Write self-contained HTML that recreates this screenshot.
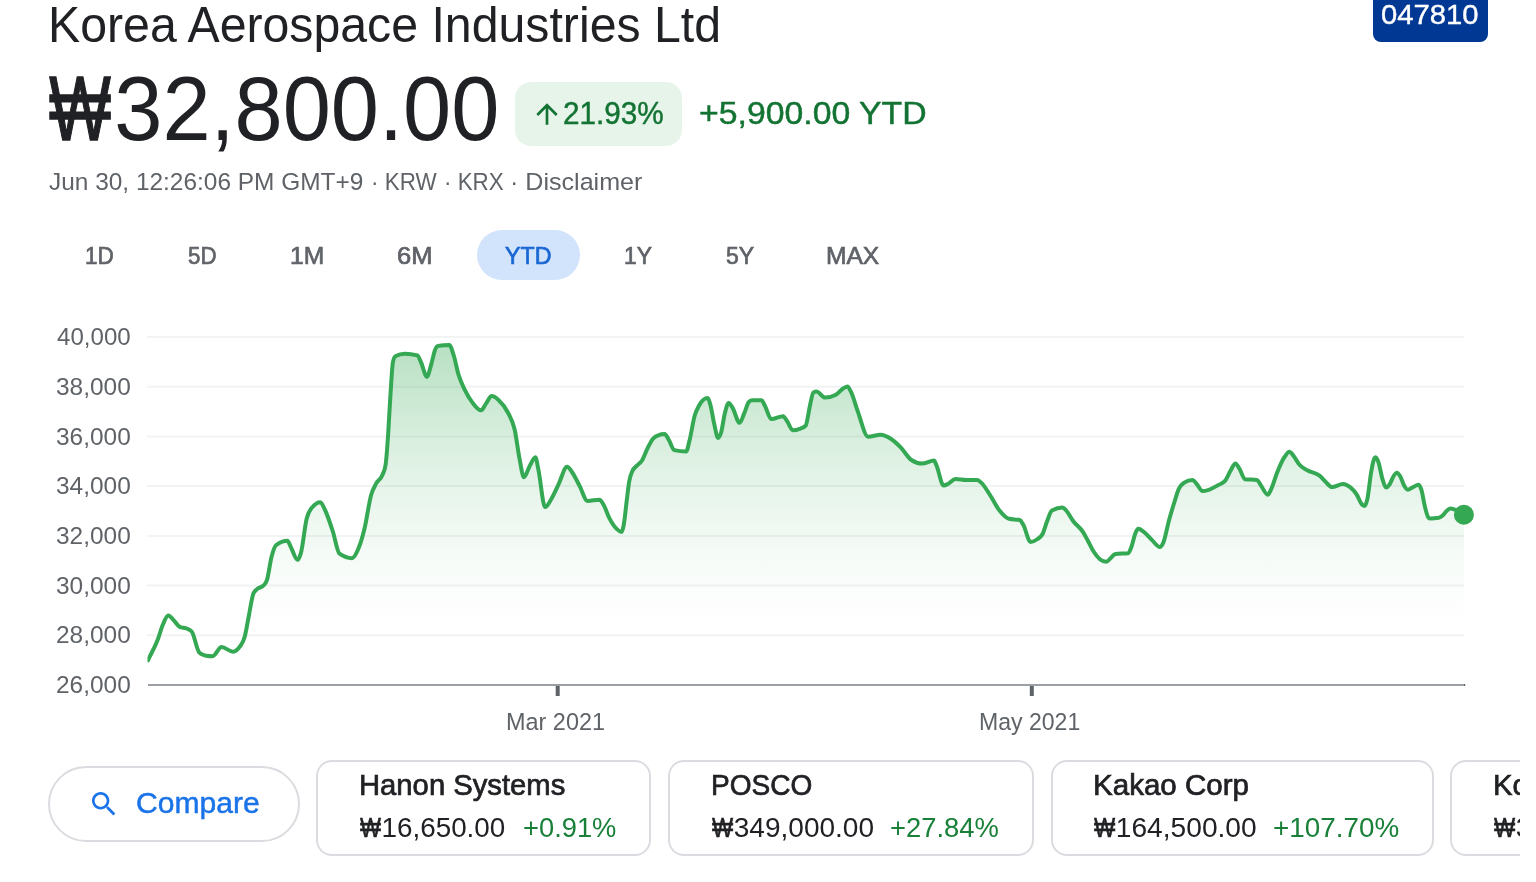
<!DOCTYPE html>
<html lang="en">
<head>
<meta charset="utf-8">
<title>Korea Aerospace Industries Ltd (047810) Stock Price</title>
<style>
html,body{margin:0;padding:0;background:#fff;}
body{width:1536px;height:882px;overflow:hidden;position:relative;font-family:"Liberation Sans",Arial,sans-serif;}
#page{position:absolute;left:0;top:0;width:1520px;height:882px;overflow:hidden;background:#fff;}
.t{position:absolute;white-space:nowrap;line-height:1;margin:0;padding:0;font-weight:400;transform-origin:0 50%;}
.dark{color:#202124;}
.gray{color:#5f6368;}
.green{color:#137333;}
.green2{color:#188038;}
.blue{color:#1a73e8;}
.med{-webkit-text-stroke:0.7px currentColor;}
.med3{-webkit-text-stroke:0.45px currentColor;}
.med2{-webkit-text-stroke:0.4px currentColor;}
.won{-webkit-text-stroke:1.3px currentColor;display:inline-block;transform:scaleX(.76);transform-origin:0 50%;margin-right:-0.19em;}
.won.s{-webkit-text-stroke:0.6px currentColor;transform:scaleX(.8);margin-right:-0.17em;}
.box{position:absolute;box-sizing:border-box;}
#ticker{left:1373px;top:-10px;width:115px;height:52px;background:#003893;border-radius:8px;}
#tick{color:#fff;}
#chg{left:515px;top:82px;width:167px;height:63.5px;background:#e6f4ea;border-radius:16px;}
#tab-active{left:477px;top:230px;width:103px;height:50px;background:#d2e3fc;border-radius:25px;}
#t-ytd{color:#1967d2;}
#compare{left:48px;top:766px;width:252px;height:76px;border:2px solid #dadce0;border-radius:38px;background:#fff;}
.card{top:760px;height:96px;border:2px solid #dadce0;border-radius:16px;background:#fff;}
#c1{left:316px;width:335px;}
#c2{left:667.5px;width:366.5px;}
#c3{left:1050.5px;width:383px;}
#c4{left:1450px;width:383px;}
svg{position:absolute;left:0;top:0;overflow:visible;}
#chart .grid line{stroke:#f1f3f4;stroke-width:2;}
</style>
</head>
<body>
<div id="page">
<header>
<h1 id="title" class="t dark" style="left:48.00px;top:0.00px;font-size:50.00px;letter-spacing:0.000px;transform:scaleX(0.9647);">Korea Aerospace Industries Ltd</h1>
<div id="ticker" class="box"></div>
<span id="tick" class="t med2" style="left:1381.00px;top:1.00px;font-size:28.00px;letter-spacing:0.000px;transform:scaleX(1.0435);">047810</span>
<span id="price" class="t dark" style="left:49.00px;top:63.00px;font-size:91.00px;letter-spacing:0.000px;transform:scaleX(0.9511);"><span class="won">₩</span>32,800.00</span>
<div id="chg" class="box"></div>
<svg id="arrow" width="32" height="32" viewBox="0 0 24 24" style="left:531px;top:98.35px"><path fill="#137333" d="M4 12l1.41 1.41L11 7.83V20h2V7.83l5.58 5.59L20 12l-8-8-8 8z"/></svg>
<span id="pct" class="t green med3" style="left:563.10px;top:98.00px;font-size:31.00px;letter-spacing:0.000px;transform:scaleX(0.9587);">21.93%</span>
<span id="delta" class="t green med3" style="left:698.80px;top:98.00px;font-size:31.00px;letter-spacing:0.000px;transform:scaleX(1.0899);">+5,900.00 YTD</span>
<time id="date" class="t gray" style="left:49.00px;top:170.00px;font-size:24.50px;letter-spacing:0.000px;transform:scaleX(0.9968);">Jun 30, 12:26:06 PM GMT+9</time><span id="d-cur" class="t gray" style="left:371.30px;top:170.00px;font-size:24.50px;letter-spacing:0.000px;transform:scaleX(0.9146);">· KRW</span><span id="d-ex" class="t gray" style="left:443.80px;top:170.00px;font-size:24.50px;letter-spacing:0.000px;transform:scaleX(0.9131);">· KRX</span><span id="d-dis" class="t gray" style="left:509.50px;top:170.00px;font-size:24.50px;letter-spacing:0.000px;transform:scaleX(1.0237);">· Disclaimer</span>
</header>
<nav>
<div id="tab-active" class="box"></div>
<span id="t-1d" class="t gray med" style="left:84.60px;top:244.00px;font-size:24.00px;letter-spacing:0.000px;transform:scaleX(0.9384);">1D</span><span id="t-5d" class="t gray med" style="left:187.50px;top:244.00px;font-size:24.00px;letter-spacing:0.000px;transform:scaleX(0.9272);">5D</span><span id="t-1m" class="t gray med" style="left:289.90px;top:244.00px;font-size:24.00px;letter-spacing:0.000px;transform:scaleX(1.0265);">1M</span><span id="t-6m" class="t gray med" style="left:396.50px;top:244.00px;font-size:24.00px;letter-spacing:0.000px;transform:scaleX(1.0632);">6M</span><span id="t-ytd" class="t gray med" style="left:504.80px;top:244.00px;font-size:24.00px;letter-spacing:0.000px;transform:scaleX(0.9660);">YTD</span><span id="t-1y" class="t gray med" style="left:623.60px;top:244.00px;font-size:24.00px;letter-spacing:0.000px;transform:scaleX(0.9508);">1Y</span><span id="t-5y" class="t gray med" style="left:726.30px;top:244.00px;font-size:24.00px;letter-spacing:0.000px;transform:scaleX(0.9591);">5Y</span><span id="t-max" class="t gray med" style="left:826.20px;top:244.00px;font-size:24.00px;letter-spacing:0.000px;transform:scaleX(1.0237);">MAX</span>
</nav>
<main>
<svg id="chart" width="1520" height="760" viewBox="0 0 1520 760">
<defs><linearGradient id="g" gradientUnits="userSpaceOnUse" x1="0" y1="337" x2="0" y2="640">
<stop offset="0.00" stop-color="#34a853" stop-opacity="0.3700"/><stop offset="0.05" stop-color="#34a853" stop-opacity="0.3408"/><stop offset="0.10" stop-color="#34a853" stop-opacity="0.3126"/><stop offset="0.15" stop-color="#34a853" stop-opacity="0.2853"/><stop offset="0.20" stop-color="#34a853" stop-opacity="0.2589"/><stop offset="0.25" stop-color="#34a853" stop-opacity="0.2335"/><stop offset="0.30" stop-color="#34a853" stop-opacity="0.2091"/><stop offset="0.35" stop-color="#34a853" stop-opacity="0.1857"/><stop offset="0.40" stop-color="#34a853" stop-opacity="0.1634"/><stop offset="0.45" stop-color="#34a853" stop-opacity="0.1422"/><stop offset="0.50" stop-color="#34a853" stop-opacity="0.1221"/><stop offset="0.55" stop-color="#34a853" stop-opacity="0.1031"/><stop offset="0.60" stop-color="#34a853" stop-opacity="0.0854"/><stop offset="0.65" stop-color="#34a853" stop-opacity="0.0690"/><stop offset="0.70" stop-color="#34a853" stop-opacity="0.0539"/><stop offset="0.75" stop-color="#34a853" stop-opacity="0.0403"/><stop offset="0.80" stop-color="#34a853" stop-opacity="0.0282"/><stop offset="0.85" stop-color="#34a853" stop-opacity="0.0178"/><stop offset="0.90" stop-color="#34a853" stop-opacity="0.0093"/><stop offset="0.95" stop-color="#34a853" stop-opacity="0.0031"/><stop offset="1.00" stop-color="#34a853" stop-opacity="0.0000"/></linearGradient></defs>
<clipPath id="cl"><rect x="147.5" y="300" width="1400" height="400"/></clipPath><g class="grid"><line x1="147" x2="1464" y1="337.0" y2="337.0"/><line x1="147" x2="1464" y1="386.7" y2="386.7"/><line x1="147" x2="1464" y1="436.4" y2="436.4"/><line x1="147" x2="1464" y1="486.1" y2="486.1"/><line x1="147" x2="1464" y1="535.9" y2="535.9"/><line x1="147" x2="1464" y1="585.6" y2="585.6"/><line x1="147" x2="1464" y1="635.3" y2="635.3"/></g>
<path d="M147.9,660.3C151.3,653.1 154.7,647.9 158.1,638.7C159.6,634.6 161.2,628.8 162.7,625.1C164.6,620.6 166.4,615.6 168.3,615.6C170.2,615.6 172.1,618.7 174.0,620.6C175.9,622.5 177.8,626.0 179.7,626.9C182.0,628.0 184.2,627.5 186.5,628.5C188.2,629.2 190.0,629.5 191.7,631.5C194.3,634.5 196.8,650.5 199.4,652.8C201.5,654.7 203.7,655.4 205.8,655.7C208.1,656.0 210.3,656.2 212.6,656.2C215.6,656.2 218.6,647.1 221.6,647.1C225.4,647.1 229.2,651.7 233.0,651.7C235.3,651.7 237.5,650.0 239.8,646.7C241.5,644.2 243.1,642.8 244.8,636.5C246.1,631.5 247.5,622.7 248.8,616.0C250.3,608.3 251.9,597.1 253.4,593.4C254.5,590.7 255.7,590.4 256.8,589.3C259.1,587.0 261.3,588.0 263.6,585.4C264.7,584.1 265.9,583.3 267.0,579.8C268.5,575.1 270.0,562.9 271.5,557.1C273.0,551.4 274.5,546.5 276.0,545.3C279.8,542.3 283.6,540.8 287.4,540.8C288.5,540.8 289.7,544.8 290.8,546.9C293.1,551.0 295.3,559.8 297.6,559.8C298.7,559.8 299.9,556.6 301.0,552.6C302.9,545.8 304.8,526.1 306.7,518.5C308.6,511.1 310.4,509.5 312.3,507.2C315.0,503.9 317.6,502.2 320.3,502.2C321.8,502.2 323.3,506.5 324.8,509.5C327.4,514.8 330.1,523.0 332.7,531.0C335.0,537.9 337.2,552.1 339.5,553.7C343.7,556.7 347.8,558.2 352.0,558.2C353.9,558.2 355.8,554.5 357.7,550.3C360.0,545.3 362.2,538.2 364.5,528.8C366.7,519.6 369.0,502.4 371.2,494.7C372.9,488.9 374.5,486.5 376.2,483.4C378.3,479.5 380.4,480.2 382.5,474.7C383.5,472.0 384.6,471.4 385.6,464.7C386.4,459.3 387.3,446.9 388.1,434.8C388.9,422.8 389.8,404.8 390.6,392.4C391.4,381.0 392.1,366.4 392.9,362.4C393.7,358.3 394.5,356.6 395.3,356.2C398.5,354.5 401.7,353.7 404.9,353.7C409.1,353.7 413.2,354.3 417.4,355.4C418.6,355.7 419.9,359.8 421.1,362.4C423.0,366.5 425.0,376.9 426.9,376.9C428.3,376.9 429.7,369.5 431.1,364.9C432.5,360.3 433.9,352.3 435.3,349.2C436.1,347.3 437.0,346.0 437.8,345.9C441.6,345.3 445.5,345.0 449.3,345.0C450.7,345.0 452.2,350.6 453.6,355.0C455.3,360.2 456.9,369.4 458.6,374.9C460.7,381.7 462.7,385.6 464.8,389.9C467.3,395.1 469.8,399.1 472.3,402.4C475.2,406.2 478.1,410.3 481.0,410.3C482.7,410.3 484.3,405.8 486.0,403.6C487.9,401.1 489.8,396.1 491.7,396.1C494.0,396.1 496.2,397.9 498.5,399.9C501.8,402.9 505.2,406.5 508.5,413.6C510.6,418.0 512.6,420.5 514.7,429.8C516.4,437.3 518.0,451.4 519.7,459.7C521.1,466.7 522.5,477.2 523.9,477.2C525.8,477.2 527.8,469.4 529.7,466.0C531.6,462.7 533.5,457.2 535.4,457.2C536.4,457.2 537.4,465.1 538.4,469.7C540.6,480.0 542.9,507.1 545.1,507.1C547.0,507.1 549.0,502.8 550.9,499.7C553.4,495.7 555.9,489.8 558.4,484.7C561.3,478.8 564.2,466.7 567.1,466.7C568.8,466.7 570.4,469.9 572.1,472.2C574.6,475.7 577.1,481.2 579.6,485.9C582.2,490.8 584.9,500.9 587.5,500.9C591.5,500.9 595.5,499.7 599.5,499.7C600.8,499.7 602.0,502.2 603.3,504.2C605.4,507.6 607.5,514.6 609.6,518.6C612.1,523.4 614.7,527.1 617.2,529.4C618.6,530.7 620.1,532.0 621.5,532.0C622.2,532.0 623.0,528.9 623.7,525.1C624.8,519.6 625.8,507.8 626.9,499.3C627.6,493.5 628.4,486.4 629.1,482.0C630.2,475.6 631.2,473.8 632.3,471.2C633.7,467.7 635.2,467.5 636.6,465.9C638.4,463.9 640.2,463.4 642.0,460.5C643.8,457.6 645.6,452.2 647.4,448.6C649.2,445.0 651.0,441.1 652.8,438.9C654.6,436.7 656.4,436.0 658.2,435.3C660.3,434.4 662.5,434.0 664.6,434.0C666.0,434.0 667.5,437.7 668.9,440.0C670.7,442.9 672.5,449.7 674.3,450.1C678.3,451.0 682.2,451.4 686.2,451.4C687.3,451.4 688.3,445.2 689.4,441.1C691.2,434.2 693.0,421.3 694.8,415.2C696.2,410.4 697.7,408.1 699.1,405.5C700.5,402.9 702.0,400.8 703.4,399.7C704.8,398.6 706.3,398.0 707.7,398.0C708.6,398.0 709.4,401.5 710.3,404.5C711.6,409.0 712.9,418.3 714.2,423.9C715.5,429.5 716.8,437.9 718.1,437.9C719.1,437.9 720.1,435.8 721.1,432.5C722.4,428.4 723.6,418.0 724.9,413.1C726.1,408.3 727.4,403.0 728.6,403.0C729.9,403.0 731.2,405.7 732.5,407.7C734.9,411.3 737.2,422.8 739.6,422.8C741.2,422.8 742.7,416.7 744.3,413.1C745.7,409.8 747.2,404.1 748.6,402.3C749.7,400.9 750.8,400.2 751.9,400.2C755.1,400.2 758.4,400.2 761.6,400.2C762.7,400.2 763.7,403.6 764.8,405.5C767.0,409.4 769.1,419.1 771.3,419.1C775.2,419.1 779.2,416.3 783.1,416.3C784.5,416.3 786.0,419.7 787.4,421.7C789.2,424.2 791.0,430.3 792.8,430.3C795.3,430.3 797.8,429.6 800.3,428.6C802.1,427.8 803.9,427.6 805.7,425.6C807.1,424.0 808.6,411.6 810.0,405.5C811.1,400.8 812.2,393.4 813.3,392.6C814.4,391.9 815.4,391.5 816.5,391.5C819.4,391.5 822.2,397.6 825.1,397.6C828.7,397.6 832.3,396.7 835.9,394.8C838.4,393.5 840.9,389.8 843.4,388.3C844.7,387.5 846.1,386.4 847.4,386.4C848.5,386.4 849.7,389.2 850.8,391.4C853.2,395.9 855.5,405.3 857.9,411.7C861.3,420.9 864.7,436.7 868.1,436.7C872.2,436.7 876.4,434.8 880.5,434.8C884.1,434.8 887.6,436.7 891.2,439.0C894.4,441.1 897.5,444.2 900.7,447.4C904.3,451.0 907.8,457.6 911.4,460.0C915.0,462.4 918.5,463.6 922.1,463.6C926.1,463.6 930.0,460.5 934.0,460.5C934.8,460.5 935.6,463.5 936.4,465.2C938.8,470.4 941.2,485.5 943.6,485.5C945.2,485.5 946.7,484.6 948.3,483.8C950.7,482.6 953.1,479.0 955.5,479.0C959.1,479.0 962.6,480.0 966.2,480.0C969.8,480.0 973.3,480.0 976.9,480.0C978.5,480.0 980.1,481.6 981.7,483.1C984.5,485.7 987.2,490.8 990.0,495.0C993.2,499.8 996.3,506.5 999.5,510.5C1002.7,514.5 1005.8,518.1 1009.0,518.8C1012.6,519.6 1016.2,519.2 1019.8,520.0C1021.0,520.3 1022.1,522.8 1023.3,524.8C1025.7,528.9 1028.1,541.9 1030.5,541.9C1032.9,541.9 1035.2,540.8 1037.6,539.0C1039.2,537.8 1040.8,537.3 1042.4,534.3C1044.0,531.3 1045.5,525.1 1047.1,521.2C1048.7,517.2 1050.3,511.4 1051.9,510.5C1055.5,508.4 1059.0,507.4 1062.6,507.4C1063.8,507.4 1065.0,509.2 1066.2,510.5C1068.6,513.1 1070.9,518.0 1073.3,521.2C1076.5,525.5 1079.7,526.9 1082.9,531.9C1084.6,534.5 1086.3,537.9 1088.0,541.0C1089.9,544.4 1091.7,548.6 1093.6,551.5C1095.7,554.8 1097.8,557.5 1099.9,559.2C1102.0,560.9 1104.2,561.8 1106.3,561.8C1107.8,561.8 1109.3,559.2 1110.8,557.9C1112.3,556.6 1113.9,554.0 1115.4,553.9C1119.6,553.5 1123.9,553.7 1128.1,553.3C1129.3,553.2 1130.5,549.4 1131.7,546.1C1132.9,542.8 1134.1,536.3 1135.3,533.4C1136.3,530.9 1137.4,528.8 1138.4,528.8C1140.1,528.8 1141.8,530.4 1143.5,531.6C1146.5,533.7 1149.5,537.8 1152.5,540.6C1154.9,542.9 1157.4,547.0 1159.8,547.0C1161.0,547.0 1162.2,545.2 1163.4,542.4C1165.2,538.1 1167.1,527.4 1168.9,520.7C1170.7,514.1 1172.5,508.2 1174.3,502.5C1175.8,497.7 1177.3,492.2 1178.8,488.9C1180.6,484.9 1182.5,483.8 1184.3,482.6C1187.0,480.8 1189.7,479.9 1192.4,479.9C1193.9,479.9 1195.5,482.7 1197.0,484.4C1198.8,486.4 1200.6,491.1 1202.4,491.1C1204.5,491.1 1206.7,490.5 1208.8,489.8C1211.8,488.8 1214.8,487.0 1217.8,485.3C1220.2,483.9 1222.7,483.8 1225.1,480.8C1226.9,478.6 1228.7,473.8 1230.5,470.8C1232.1,468.1 1233.8,463.5 1235.4,463.5C1236.8,463.5 1238.2,466.8 1239.6,469.0C1241.4,471.8 1243.2,479.1 1245.0,479.3C1248.9,479.7 1252.9,479.5 1256.8,479.9C1258.3,480.1 1259.9,484.1 1261.4,486.2C1263.5,489.1 1265.6,494.7 1267.7,494.7C1268.9,494.7 1270.1,491.4 1271.3,488.9C1273.1,485.1 1275.0,478.1 1276.8,473.5C1279.3,467.1 1281.9,461.0 1284.4,457.2C1286.1,454.7 1287.7,451.8 1289.4,451.8C1290.9,451.8 1292.3,454.4 1293.8,456.2C1295.7,458.5 1297.6,462.6 1299.5,464.8C1302.1,467.8 1304.7,468.7 1307.3,470.3C1311.4,472.8 1315.6,472.3 1319.7,475.8C1321.5,477.3 1323.3,479.6 1325.1,481.3C1327.4,483.5 1329.7,487.1 1332.0,487.1C1335.6,487.1 1339.3,484.0 1342.9,484.0C1345.6,484.0 1348.4,485.7 1351.1,488.1C1352.9,489.7 1354.8,491.5 1356.6,494.3C1358.4,497.0 1360.2,502.7 1362.0,504.5C1362.9,505.4 1363.9,505.9 1364.8,505.9C1365.7,505.9 1366.6,502.7 1367.5,498.4C1368.6,493.0 1369.8,480.5 1370.9,473.8C1371.8,468.2 1372.8,462.7 1373.7,460.1C1374.4,458.2 1375.0,457.3 1375.7,457.3C1376.6,457.3 1377.5,459.6 1378.4,462.1C1379.8,465.8 1381.1,474.8 1382.5,479.2C1383.7,482.9 1384.8,487.4 1386.0,487.4C1387.1,487.4 1388.3,486.2 1389.4,484.7C1391.0,482.6 1392.6,477.2 1394.2,475.1C1395.1,473.9 1396.0,472.7 1396.9,472.7C1398.0,472.7 1399.2,474.6 1400.3,476.5C1401.7,478.8 1403.0,483.9 1404.4,486.1C1405.5,488.0 1406.7,489.7 1407.8,489.7C1409.4,489.7 1411.0,488.1 1412.6,487.4C1414.7,486.4 1416.7,484.7 1418.8,484.7C1419.7,484.7 1420.6,487.3 1421.5,490.2C1422.6,493.9 1423.8,502.0 1424.9,506.6C1426.0,511.1 1427.2,516.3 1428.3,517.5C1429.0,518.2 1429.7,518.6 1430.4,518.6C1433.1,518.6 1435.9,518.3 1438.6,517.8C1440.0,517.5 1441.3,516.7 1442.7,515.5C1444.1,514.3 1445.4,511.9 1446.8,510.7C1447.9,509.7 1449.1,508.6 1450.2,508.6C1451.6,508.6 1452.9,508.9 1454.3,509.3C1457.5,510.2 1460.7,513.0 1463.9,514.8L1463.9,685L147.9,685Z" fill="url(#g)"/>
<line x1="148" x2="1465" y1="685" y2="685" stroke="#9aa0a6" stroke-width="2"/><rect x="1464" y="684" width="1.2" height="2" fill="#5f6368"/>
<line x1="557.7" x2="557.7" y1="686" y2="696" stroke="#5f6368" stroke-width="4"/>
<line x1="1031.8" x2="1031.8" y1="686" y2="696" stroke="#5f6368" stroke-width="4"/>
<path clip-path="url(#cl)" d="M147.9,660.3C151.3,653.1 154.7,647.9 158.1,638.7C159.6,634.6 161.2,628.8 162.7,625.1C164.6,620.6 166.4,615.6 168.3,615.6C170.2,615.6 172.1,618.7 174.0,620.6C175.9,622.5 177.8,626.0 179.7,626.9C182.0,628.0 184.2,627.5 186.5,628.5C188.2,629.2 190.0,629.5 191.7,631.5C194.3,634.5 196.8,650.5 199.4,652.8C201.5,654.7 203.7,655.4 205.8,655.7C208.1,656.0 210.3,656.2 212.6,656.2C215.6,656.2 218.6,647.1 221.6,647.1C225.4,647.1 229.2,651.7 233.0,651.7C235.3,651.7 237.5,650.0 239.8,646.7C241.5,644.2 243.1,642.8 244.8,636.5C246.1,631.5 247.5,622.7 248.8,616.0C250.3,608.3 251.9,597.1 253.4,593.4C254.5,590.7 255.7,590.4 256.8,589.3C259.1,587.0 261.3,588.0 263.6,585.4C264.7,584.1 265.9,583.3 267.0,579.8C268.5,575.1 270.0,562.9 271.5,557.1C273.0,551.4 274.5,546.5 276.0,545.3C279.8,542.3 283.6,540.8 287.4,540.8C288.5,540.8 289.7,544.8 290.8,546.9C293.1,551.0 295.3,559.8 297.6,559.8C298.7,559.8 299.9,556.6 301.0,552.6C302.9,545.8 304.8,526.1 306.7,518.5C308.6,511.1 310.4,509.5 312.3,507.2C315.0,503.9 317.6,502.2 320.3,502.2C321.8,502.2 323.3,506.5 324.8,509.5C327.4,514.8 330.1,523.0 332.7,531.0C335.0,537.9 337.2,552.1 339.5,553.7C343.7,556.7 347.8,558.2 352.0,558.2C353.9,558.2 355.8,554.5 357.7,550.3C360.0,545.3 362.2,538.2 364.5,528.8C366.7,519.6 369.0,502.4 371.2,494.7C372.9,488.9 374.5,486.5 376.2,483.4C378.3,479.5 380.4,480.2 382.5,474.7C383.5,472.0 384.6,471.4 385.6,464.7C386.4,459.3 387.3,446.9 388.1,434.8C388.9,422.8 389.8,404.8 390.6,392.4C391.4,381.0 392.1,366.4 392.9,362.4C393.7,358.3 394.5,356.6 395.3,356.2C398.5,354.5 401.7,353.7 404.9,353.7C409.1,353.7 413.2,354.3 417.4,355.4C418.6,355.7 419.9,359.8 421.1,362.4C423.0,366.5 425.0,376.9 426.9,376.9C428.3,376.9 429.7,369.5 431.1,364.9C432.5,360.3 433.9,352.3 435.3,349.2C436.1,347.3 437.0,346.0 437.8,345.9C441.6,345.3 445.5,345.0 449.3,345.0C450.7,345.0 452.2,350.6 453.6,355.0C455.3,360.2 456.9,369.4 458.6,374.9C460.7,381.7 462.7,385.6 464.8,389.9C467.3,395.1 469.8,399.1 472.3,402.4C475.2,406.2 478.1,410.3 481.0,410.3C482.7,410.3 484.3,405.8 486.0,403.6C487.9,401.1 489.8,396.1 491.7,396.1C494.0,396.1 496.2,397.9 498.5,399.9C501.8,402.9 505.2,406.5 508.5,413.6C510.6,418.0 512.6,420.5 514.7,429.8C516.4,437.3 518.0,451.4 519.7,459.7C521.1,466.7 522.5,477.2 523.9,477.2C525.8,477.2 527.8,469.4 529.7,466.0C531.6,462.7 533.5,457.2 535.4,457.2C536.4,457.2 537.4,465.1 538.4,469.7C540.6,480.0 542.9,507.1 545.1,507.1C547.0,507.1 549.0,502.8 550.9,499.7C553.4,495.7 555.9,489.8 558.4,484.7C561.3,478.8 564.2,466.7 567.1,466.7C568.8,466.7 570.4,469.9 572.1,472.2C574.6,475.7 577.1,481.2 579.6,485.9C582.2,490.8 584.9,500.9 587.5,500.9C591.5,500.9 595.5,499.7 599.5,499.7C600.8,499.7 602.0,502.2 603.3,504.2C605.4,507.6 607.5,514.6 609.6,518.6C612.1,523.4 614.7,527.1 617.2,529.4C618.6,530.7 620.1,532.0 621.5,532.0C622.2,532.0 623.0,528.9 623.7,525.1C624.8,519.6 625.8,507.8 626.9,499.3C627.6,493.5 628.4,486.4 629.1,482.0C630.2,475.6 631.2,473.8 632.3,471.2C633.7,467.7 635.2,467.5 636.6,465.9C638.4,463.9 640.2,463.4 642.0,460.5C643.8,457.6 645.6,452.2 647.4,448.6C649.2,445.0 651.0,441.1 652.8,438.9C654.6,436.7 656.4,436.0 658.2,435.3C660.3,434.4 662.5,434.0 664.6,434.0C666.0,434.0 667.5,437.7 668.9,440.0C670.7,442.9 672.5,449.7 674.3,450.1C678.3,451.0 682.2,451.4 686.2,451.4C687.3,451.4 688.3,445.2 689.4,441.1C691.2,434.2 693.0,421.3 694.8,415.2C696.2,410.4 697.7,408.1 699.1,405.5C700.5,402.9 702.0,400.8 703.4,399.7C704.8,398.6 706.3,398.0 707.7,398.0C708.6,398.0 709.4,401.5 710.3,404.5C711.6,409.0 712.9,418.3 714.2,423.9C715.5,429.5 716.8,437.9 718.1,437.9C719.1,437.9 720.1,435.8 721.1,432.5C722.4,428.4 723.6,418.0 724.9,413.1C726.1,408.3 727.4,403.0 728.6,403.0C729.9,403.0 731.2,405.7 732.5,407.7C734.9,411.3 737.2,422.8 739.6,422.8C741.2,422.8 742.7,416.7 744.3,413.1C745.7,409.8 747.2,404.1 748.6,402.3C749.7,400.9 750.8,400.2 751.9,400.2C755.1,400.2 758.4,400.2 761.6,400.2C762.7,400.2 763.7,403.6 764.8,405.5C767.0,409.4 769.1,419.1 771.3,419.1C775.2,419.1 779.2,416.3 783.1,416.3C784.5,416.3 786.0,419.7 787.4,421.7C789.2,424.2 791.0,430.3 792.8,430.3C795.3,430.3 797.8,429.6 800.3,428.6C802.1,427.8 803.9,427.6 805.7,425.6C807.1,424.0 808.6,411.6 810.0,405.5C811.1,400.8 812.2,393.4 813.3,392.6C814.4,391.9 815.4,391.5 816.5,391.5C819.4,391.5 822.2,397.6 825.1,397.6C828.7,397.6 832.3,396.7 835.9,394.8C838.4,393.5 840.9,389.8 843.4,388.3C844.7,387.5 846.1,386.4 847.4,386.4C848.5,386.4 849.7,389.2 850.8,391.4C853.2,395.9 855.5,405.3 857.9,411.7C861.3,420.9 864.7,436.7 868.1,436.7C872.2,436.7 876.4,434.8 880.5,434.8C884.1,434.8 887.6,436.7 891.2,439.0C894.4,441.1 897.5,444.2 900.7,447.4C904.3,451.0 907.8,457.6 911.4,460.0C915.0,462.4 918.5,463.6 922.1,463.6C926.1,463.6 930.0,460.5 934.0,460.5C934.8,460.5 935.6,463.5 936.4,465.2C938.8,470.4 941.2,485.5 943.6,485.5C945.2,485.5 946.7,484.6 948.3,483.8C950.7,482.6 953.1,479.0 955.5,479.0C959.1,479.0 962.6,480.0 966.2,480.0C969.8,480.0 973.3,480.0 976.9,480.0C978.5,480.0 980.1,481.6 981.7,483.1C984.5,485.7 987.2,490.8 990.0,495.0C993.2,499.8 996.3,506.5 999.5,510.5C1002.7,514.5 1005.8,518.1 1009.0,518.8C1012.6,519.6 1016.2,519.2 1019.8,520.0C1021.0,520.3 1022.1,522.8 1023.3,524.8C1025.7,528.9 1028.1,541.9 1030.5,541.9C1032.9,541.9 1035.2,540.8 1037.6,539.0C1039.2,537.8 1040.8,537.3 1042.4,534.3C1044.0,531.3 1045.5,525.1 1047.1,521.2C1048.7,517.2 1050.3,511.4 1051.9,510.5C1055.5,508.4 1059.0,507.4 1062.6,507.4C1063.8,507.4 1065.0,509.2 1066.2,510.5C1068.6,513.1 1070.9,518.0 1073.3,521.2C1076.5,525.5 1079.7,526.9 1082.9,531.9C1084.6,534.5 1086.3,537.9 1088.0,541.0C1089.9,544.4 1091.7,548.6 1093.6,551.5C1095.7,554.8 1097.8,557.5 1099.9,559.2C1102.0,560.9 1104.2,561.8 1106.3,561.8C1107.8,561.8 1109.3,559.2 1110.8,557.9C1112.3,556.6 1113.9,554.0 1115.4,553.9C1119.6,553.5 1123.9,553.7 1128.1,553.3C1129.3,553.2 1130.5,549.4 1131.7,546.1C1132.9,542.8 1134.1,536.3 1135.3,533.4C1136.3,530.9 1137.4,528.8 1138.4,528.8C1140.1,528.8 1141.8,530.4 1143.5,531.6C1146.5,533.7 1149.5,537.8 1152.5,540.6C1154.9,542.9 1157.4,547.0 1159.8,547.0C1161.0,547.0 1162.2,545.2 1163.4,542.4C1165.2,538.1 1167.1,527.4 1168.9,520.7C1170.7,514.1 1172.5,508.2 1174.3,502.5C1175.8,497.7 1177.3,492.2 1178.8,488.9C1180.6,484.9 1182.5,483.8 1184.3,482.6C1187.0,480.8 1189.7,479.9 1192.4,479.9C1193.9,479.9 1195.5,482.7 1197.0,484.4C1198.8,486.4 1200.6,491.1 1202.4,491.1C1204.5,491.1 1206.7,490.5 1208.8,489.8C1211.8,488.8 1214.8,487.0 1217.8,485.3C1220.2,483.9 1222.7,483.8 1225.1,480.8C1226.9,478.6 1228.7,473.8 1230.5,470.8C1232.1,468.1 1233.8,463.5 1235.4,463.5C1236.8,463.5 1238.2,466.8 1239.6,469.0C1241.4,471.8 1243.2,479.1 1245.0,479.3C1248.9,479.7 1252.9,479.5 1256.8,479.9C1258.3,480.1 1259.9,484.1 1261.4,486.2C1263.5,489.1 1265.6,494.7 1267.7,494.7C1268.9,494.7 1270.1,491.4 1271.3,488.9C1273.1,485.1 1275.0,478.1 1276.8,473.5C1279.3,467.1 1281.9,461.0 1284.4,457.2C1286.1,454.7 1287.7,451.8 1289.4,451.8C1290.9,451.8 1292.3,454.4 1293.8,456.2C1295.7,458.5 1297.6,462.6 1299.5,464.8C1302.1,467.8 1304.7,468.7 1307.3,470.3C1311.4,472.8 1315.6,472.3 1319.7,475.8C1321.5,477.3 1323.3,479.6 1325.1,481.3C1327.4,483.5 1329.7,487.1 1332.0,487.1C1335.6,487.1 1339.3,484.0 1342.9,484.0C1345.6,484.0 1348.4,485.7 1351.1,488.1C1352.9,489.7 1354.8,491.5 1356.6,494.3C1358.4,497.0 1360.2,502.7 1362.0,504.5C1362.9,505.4 1363.9,505.9 1364.8,505.9C1365.7,505.9 1366.6,502.7 1367.5,498.4C1368.6,493.0 1369.8,480.5 1370.9,473.8C1371.8,468.2 1372.8,462.7 1373.7,460.1C1374.4,458.2 1375.0,457.3 1375.7,457.3C1376.6,457.3 1377.5,459.6 1378.4,462.1C1379.8,465.8 1381.1,474.8 1382.5,479.2C1383.7,482.9 1384.8,487.4 1386.0,487.4C1387.1,487.4 1388.3,486.2 1389.4,484.7C1391.0,482.6 1392.6,477.2 1394.2,475.1C1395.1,473.9 1396.0,472.7 1396.9,472.7C1398.0,472.7 1399.2,474.6 1400.3,476.5C1401.7,478.8 1403.0,483.9 1404.4,486.1C1405.5,488.0 1406.7,489.7 1407.8,489.7C1409.4,489.7 1411.0,488.1 1412.6,487.4C1414.7,486.4 1416.7,484.7 1418.8,484.7C1419.7,484.7 1420.6,487.3 1421.5,490.2C1422.6,493.9 1423.8,502.0 1424.9,506.6C1426.0,511.1 1427.2,516.3 1428.3,517.5C1429.0,518.2 1429.7,518.6 1430.4,518.6C1433.1,518.6 1435.9,518.3 1438.6,517.8C1440.0,517.5 1441.3,516.7 1442.7,515.5C1444.1,514.3 1445.4,511.9 1446.8,510.7C1447.9,509.7 1449.1,508.6 1450.2,508.6C1451.6,508.6 1452.9,508.9 1454.3,509.3C1457.5,510.2 1460.7,513.0 1463.9,514.8" fill="none" stroke="#34a853" stroke-width="4" stroke-linejoin="round" stroke-linecap="round"/>
<circle cx="1463.9" cy="514.8" r="10" fill="#34a853"/>
</svg>
<span id="y0" class="t gray" style="left:56.90px;top:326.00px;font-size:23.50px;letter-spacing:0.000px;transform:scaleX(1.0254);">40,000</span><span id="y1" class="t gray" style="left:55.90px;top:376.00px;font-size:23.50px;letter-spacing:0.000px;transform:scaleX(1.0401);">38,000</span><span id="y2" class="t gray" style="left:55.90px;top:426.00px;font-size:23.50px;letter-spacing:0.000px;transform:scaleX(1.0401);">36,000</span><span id="y3" class="t gray" style="left:55.90px;top:475.00px;font-size:23.50px;letter-spacing:0.000px;transform:scaleX(1.0401);">34,000</span><span id="y4" class="t gray" style="left:55.90px;top:525.00px;font-size:23.50px;letter-spacing:0.000px;transform:scaleX(1.0401);">32,000</span><span id="y5" class="t gray" style="left:55.90px;top:575.00px;font-size:23.50px;letter-spacing:0.000px;transform:scaleX(1.0401);">30,000</span><span id="y6" class="t gray" style="left:55.90px;top:624.00px;font-size:23.50px;letter-spacing:0.000px;transform:scaleX(1.0401);">28,000</span><span id="y7" class="t gray" style="left:55.90px;top:674.00px;font-size:23.50px;letter-spacing:0.000px;transform:scaleX(1.0401);">26,000</span>
<span id="x-mar" class="t gray" style="left:506.20px;top:710.00px;font-size:24.50px;letter-spacing:0.000px;transform:scaleX(0.9565);">Mar 2021</span><span id="x-may" class="t gray" style="left:979.40px;top:710.00px;font-size:24.50px;letter-spacing:0.000px;transform:scaleX(0.9410);">May 2021</span>
</main>
<footer>
<div id="compare" class="box"></div>
<svg id="search" width="1520" height="882" viewBox="0 0 1520 882"><g transform="translate(88,788.1) scale(1.3333)"><path fill="#1a73e8" d="M15.5 14h-.79l-.28-.27C15.41 12.59 16 11.11 16 9.5 16 5.91 13.09 3 9.5 3S3 5.91 3 9.5 5.91 16 9.5 16c1.61 0 3.09-.59 4.23-1.57l.27.28v.79l5 4.99L20.49 19l-4.99-5zm-6 0C7.01 14 5 11.99 5 9.5S7.01 5 9.5 5 14 7.01 14 9.5 11.99 14 9.5 14z"/></g></svg>
<span id="cmp" class="t blue med3" style="left:135.90px;top:789.00px;font-size:29.00px;letter-spacing:0.000px;transform:scaleX(1.0368);">Compare</span>
<div id="c1" class="box card"></div><span id="c1n" class="t dark med" style="left:358.70px;top:771.00px;font-size:29.00px;letter-spacing:0.000px;transform:scaleX(1.0079);">Hanon Systems</span><span id="c1p" class="t dark" style="left:360.20px;top:815.00px;font-size:27.00px;letter-spacing:0.000px;transform:scaleX(1.0300);"><span class="won s">₩</span>16,650.00</span><span id="c1c" class="t green2" style="left:523.30px;top:815.00px;font-size:27.00px;letter-spacing:0.000px;transform:scaleX(1.0111);">+0.91%</span>
<div id="c2" class="box card"></div><span id="c2n" class="t dark med" style="left:711.30px;top:771.00px;font-size:29.00px;letter-spacing:0.000px;transform:scaleX(0.9669);">POSCO</span><span id="c2p" class="t dark" style="left:711.80px;top:815.00px;font-size:27.00px;letter-spacing:0.000px;transform:scaleX(1.0385);"><span class="won s">₩</span>349,000.00</span><span id="c2c" class="t green2" style="left:890.00px;top:815.00px;font-size:27.00px;letter-spacing:0.000px;transform:scaleX(1.0133);">+27.84%</span>
<div id="c3" class="box card"></div><span id="c3n" class="t dark med" style="left:1093.40px;top:771.00px;font-size:29.00px;letter-spacing:0.000px;transform:scaleX(1.0186);">Kakao Corp</span><span id="c3p" class="t dark" style="left:1094.40px;top:815.00px;font-size:27.00px;letter-spacing:0.000px;transform:scaleX(1.0424);"><span class="won s">₩</span>164,500.00</span><span id="c3c" class="t green2" style="left:1272.90px;top:815.00px;font-size:27.00px;letter-spacing:0.000px;transform:scaleX(1.0317);">+107.70%</span>
<div id="c4" class="box card"></div><span id="c4n" class="t dark med" style="left:1492.80px;top:771.00px;font-size:29.00px;letter-spacing:0.000px;transform:scaleX(1.0100);">Korea Electric Power</span><span id="c4p" class="t dark" style="left:1494.00px;top:815.00px;font-size:27.00px;letter-spacing:0.000px;transform:scaleX(1.0400);"><span class="won s">₩</span>31,450.00</span>
</footer>
</div>
</body>
</html>
